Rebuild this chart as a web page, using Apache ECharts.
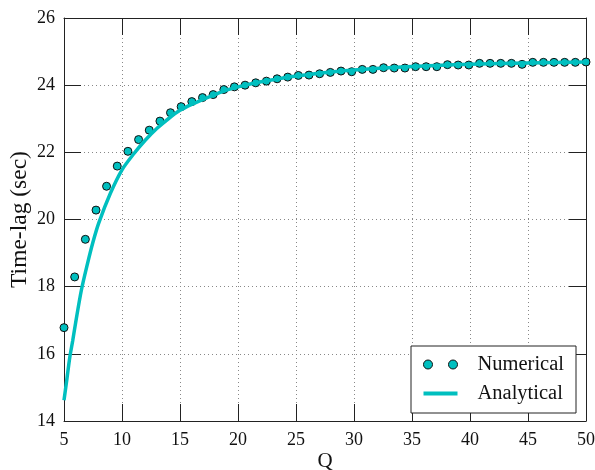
<!DOCTYPE html>
<html>
<head>
<meta charset="utf-8">
<script src="https://cdn.jsdelivr.net/npm/echarts@6/dist/echarts.min.js"></script>
<style>html,body{margin:0;padding:0;background:#fff}#c{width:595px;height:470px}</style>
</head>
<body>
<div id="c"></div>
<script>
// Numerical points
const qNum = [5.00, 5.92, 6.84, 7.76, 8.67, 9.59, 10.51, 11.43, 12.35, 13.27, 14.18, 15.10, 16.02, 16.94, 17.86, 18.78, 19.69, 20.61, 21.53, 22.45, 23.37, 24.29, 25.20, 26.12, 27.04, 27.96, 28.88, 29.80, 30.71, 31.63, 32.55, 33.47, 34.39, 35.31, 36.22, 37.14, 38.06, 38.98, 39.90, 40.82, 41.73, 42.65, 43.57, 44.49, 45.41, 46.33, 47.24, 48.16, 49.08, 50.00];
const tNum = [16.78, 18.29, 19.41, 20.28, 20.99, 21.59, 22.03, 22.38, 22.66, 22.93, 23.18, 23.36, 23.51, 23.63, 23.72, 23.87, 23.95, 24.00, 24.07, 24.12, 24.19, 24.24, 24.29, 24.30, 24.34, 24.38, 24.42, 24.40, 24.47, 24.47, 24.52, 24.51, 24.51, 24.55, 24.55, 24.55, 24.61, 24.60, 24.60, 24.65, 24.65, 24.65, 24.65, 24.62, 24.68, 24.68, 24.68, 24.68, 24.68, 24.69];
// Analytical curve
const qAna = [5, 5.25, 5.5, 5.75, 6, 6.5, 7, 7.5, 8, 9, 10, 11, 12, 13, 14, 15, 16, 17, 18, 19, 20, 22, 24, 26, 28, 30, 33, 36, 40, 45, 50];
const tAna = [14.62, 15.25, 15.9, 16.39, 16.92, 17.9, 18.65, 19.33, 19.9, 20.78, 21.48, 21.95, 22.36, 22.71, 23.0, 23.25, 23.43, 23.58, 23.72, 23.85, 23.95, 24.10, 24.22, 24.31, 24.39, 24.45, 24.52, 24.57, 24.62, 24.66, 24.69];
const xTicks = [5, 10, 15, 20, 25, 30, 35, 40, 45, 50];
const yTicks = [14, 16, 18, 20, 22, 24, 26];
const seriesNames = ['Numerical', 'Analytical'];
const xTitle = 'Q';
const yTitle = 'Time-lag (sec)';

const teal = '#00BFBF';
const serif = '"Liberation Serif", "DejaVu Serif", serif';
const chart = echarts.init(document.getElementById('c'), null, {renderer: 'canvas'});

const tickStyle = {show: true, inside: true, length: 17, lineStyle: {color: '#222', width: 1}};
const axLine = {show: true, lineStyle: {color: '#222', width: 1}};

chart.setOption({
  animation: false,
  backgroundColor: '#fff',
  grid: {left: 64, top: 18, width: 522, height: 403, containLabel: false, outerBoundsMode: 'none'},
  xAxis: [{
    type: 'value', min: xTicks[0], max: xTicks[xTicks.length - 1], interval: 5,
    position: 'bottom',
    name: xTitle, nameLocation: 'middle', nameGap: 30, nameMoveOverlap: false,
    nameTextStyle: {fontFamily: serif, fontSize: 21, color: '#111'},
    axisLine: axLine, axisTick: tickStyle,
    axisLabel: {fontFamily: serif, fontSize: 18, color: '#111', margin: 10},
    splitLine: {show: true, lineStyle: {color: '#888', width: 1, type: [1, 3]}}
  }, {
    type: 'value', min: xTicks[0], max: xTicks[xTicks.length - 1], interval: 5,
    position: 'top',
    axisLine: axLine, axisTick: tickStyle,
    axisLabel: {show: false}, splitLine: {show: false}
  }],
  yAxis: [{
    type: 'value', min: yTicks[0], max: yTicks[yTicks.length - 1], interval: 2,
    position: 'left',
    name: yTitle, nameLocation: 'middle', nameGap: 32, nameRotate: 90, nameMoveOverlap: false,
    nameTextStyle: {fontFamily: serif, fontSize: 23.5, color: '#111'},
    axisLine: axLine, axisTick: tickStyle,
    axisLabel: {fontFamily: serif, fontSize: 18, color: '#111', margin: 9},
    splitLine: {show: true, lineStyle: {color: '#888', width: 1, type: [1, 3]}}
  }, {
    type: 'value', min: yTicks[0], max: yTicks[yTicks.length - 1], interval: 2,
    position: 'right',
    axisLine: axLine, axisTick: tickStyle,
    axisLabel: {show: false}, splitLine: {show: false}
  }],
  legend: {
    orient: 'vertical',
    left: 411, top: 346,
    padding: [8, 12, 9, 12],
    itemGap: 8,
    itemWidth: 34, itemHeight: 9,
    backgroundColor: '#fff',
    borderColor: '#222', borderWidth: 1,
    textStyle: {fontFamily: serif, fontSize: 20.5, color: '#111', padding: [0, 0, 0, 15]},
    data: [{
      name: seriesNames[0],
      icon: 'path://M0,4.5a4.5,4.5 0 1,0 9,0a4.5,4.5 0 1,0 -9,0M25,4.5a4.5,4.5 0 1,0 9,0a4.5,4.5 0 1,0 -9,0',
      itemStyle: {color: teal, borderColor: '#111', borderWidth: 1}
    }, {
      name: seriesNames[1],
      icon: 'path://M0,0h34v4h-34z',
      itemStyle: {color: teal, borderWidth: 0}
    }]
  },
  series: [{
    name: seriesNames[0],
    type: 'scatter',
    data: qNum.map((q, i) => [q, tNum[i]]),
    symbol: 'circle', symbolSize: 8,
    itemStyle: {color: teal, borderColor: '#111', borderWidth: 1, opacity: 1},
    z: 2
  }, {
    name: seriesNames[1],
    type: 'line',
    data: qAna.map((q, i) => [q, tAna[i]]),
    smooth: 0.3, showSymbol: false, symbol: 'none',
    lineStyle: {color: teal, width: 3.5},
    itemStyle: {color: teal},
    z: 3
  }]
});
</script>
</body>
</html>
